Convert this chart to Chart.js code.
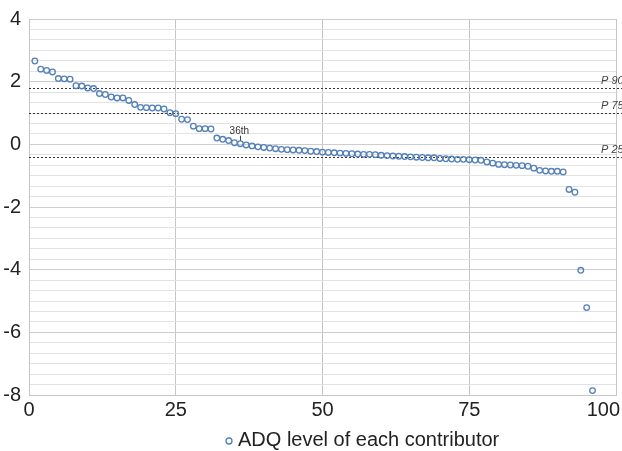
<!DOCTYPE html>
<html>
<head>
<meta charset="utf-8">
<script src="https://cdn.jsdelivr.net/npm/chart.js@4/dist/chart.umd.min.js"></script>
<style>
    html, body { margin: 0; padding: 0; background: #fff; }
    #wrap { width: 622px; height: 451px; position: relative; }
</style>
</head>
<body>
<div id="wrap"><canvas id="adqChart"></canvas></div>
<script>
// ADQ level per contributor, sorted high to low (rank 1..96)
const adqLevels = [
    2.66, 2.40, 2.36, 2.31, 2.10, 2.09, 2.08, 1.87, 1.86, 1.80,
    1.78, 1.62, 1.59, 1.51, 1.48, 1.48, 1.40, 1.27, 1.18, 1.17,
    1.16, 1.16, 1.13, 1.01, 0.98, 0.80, 0.79, 0.58, 0.50, 0.50,
    0.49, 0.20, 0.16, 0.12, 0.05, 0.02, -0.02, -0.05, -0.08, -0.10,
    -0.12, -0.14, -0.16, -0.17, -0.18, -0.19, -0.20, -0.22, -0.23, -0.25,
    -0.26, -0.27, -0.28, -0.29, -0.30, -0.31, -0.32, -0.32, -0.33, -0.35,
    -0.36, -0.37, -0.38, -0.39, -0.40, -0.41, -0.42, -0.43, -0.43, -0.45,
    -0.46, -0.47, -0.48, -0.48, -0.49, -0.50, -0.51, -0.56, -0.60, -0.64,
    -0.65, -0.66, -0.67, -0.68, -0.70, -0.76, -0.83, -0.85, -0.86, -0.86,
    -0.88, -1.44, -1.53, -4.02, -5.21, -7.86
];
const percentileNames = ['P 90', 'P 75', 'P 25'];
const percentileValues = [1.79, 0.99, -0.41];
const xTickLabels = [0, 25, 50, 75, 100];
const yTickLabels = [-8, -6, -4, -2, 0, 2, 4];
const minorPerMajor = 6;
const markedRank = 36;
const seriesLabel = 'ADQ level of each contributor';

const blue = 'rgb(84, 128, 186)';
const fontFamily = '"Liberation Sans", Arial, sans-serif';

const points = adqLevels.map((v, i) => ({x: i + 1, y: v}));

const percentileLines = {
    id: 'percentileLines',
    beforeDatasetsDraw(chart) {
        const {ctx, chartArea, scales: {y}} = chart;
        ctx.save();
        ctx.strokeStyle = '#333';
        ctx.lineWidth = 1;
        ctx.setLineDash([2, 2]);
        ctx.font = 'italic 11px ' + fontFamily;
        ctx.fillStyle = '#444';
        ctx.textAlign = 'left';
        ctx.textBaseline = 'alphabetic';
        percentileValues.forEach((v, i) => {
            const py = Math.round(y.getPixelForValue(v)) + 0.5;
            ctx.beginPath();
            ctx.moveTo(chartArea.left, py);
            ctx.lineTo(chart.width, py);
            ctx.stroke();
            ctx.fillText(percentileNames[i], 601, py - 5);
        });
        ctx.restore();
    },
    afterDatasetsDraw(chart) {
        const {ctx} = chart;
        const pt = chart.getDatasetMeta(0).data[markedRank - 1];
        ctx.save();
        ctx.strokeStyle = '#444';
        ctx.lineWidth = 1;
        ctx.beginPath();
        ctx.moveTo(Math.round(pt.x) + 0.5, pt.y - 3);
        ctx.lineTo(Math.round(pt.x) + 0.5, pt.y - 8);
        ctx.stroke();
        ctx.font = '10px ' + fontFamily;
        ctx.fillStyle = '#333';
        ctx.textAlign = 'center';
        ctx.fillText(markedRank + 'th', pt.x - 1, pt.y - 10);
        ctx.restore();
    },
    afterDraw(chart) {
        const {ctx, chartArea, scales: {x}} = chart;
        ctx.save();
        // x labels drawn by hand so "100" stays inside the canvas
        ctx.font = '20px ' + fontFamily;
        ctx.fillStyle = '#222';
        ctx.textBaseline = 'top';
        ctx.textAlign = 'left';
        xTickLabels.forEach(v => {
            const text = String(v);
            const w = ctx.measureText(text).width;
            let left = x.getPixelForValue(v) - w / 2;
            if (left + w > chart.width - 2) left = chart.width - 2 - w;
            ctx.fillText(text, left, chartArea.bottom + 5);
        });
        // legend, sits a bit right of centre like the original
        const ly = chartArea.bottom + 45;
        const lx = 229;
        ctx.strokeStyle = blue;
        ctx.lineWidth = 1.3;
        ctx.beginPath();
        ctx.arc(lx, ly + 1, 3, 0, Math.PI * 2);
        ctx.stroke();
        ctx.textBaseline = 'middle';
        ctx.fillText(seriesLabel, lx + 9, ly);
        ctx.restore();
    }
};

new Chart(document.getElementById('adqChart').getContext('2d'), {
    type: 'scatter',
    data: {
        datasets: [{
            label: seriesLabel,
            data: points,
            borderColor: blue,
            backgroundColor: 'rgba(255,255,255,0)',
            borderWidth: 1.3,
            pointRadius: 2.8,
            pointHoverRadius: 2.8
        }]
    },
    options: {
        responsive: true,
        maintainAspectRatio: false,
        animation: false,
        layout: {
            padding: {top: 19, right: 6, left: 0, bottom: 0}
        },
        scales: {
            x: {
                type: 'linear',
                min: 0,
                max: 100,
                ticks: {display: false, stepSize: 25},
                afterBuildTicks: s => { s.ticks = xTickLabels.map(v => ({value: v})); },
                afterFit: s => { s.height = 56; s.paddingLeft = 0; s.paddingRight = 0; },
                grid: {color: '#c6c6c6', drawTicks: false},
                border: {color: '#c6c6c6'}
            },
            y: {
                min: -8,
                max: 4,
                afterBuildTicks: s => {
                    const t = [];
                    const lo = yTickLabels[0];
                    const step = (yTickLabels[1] - yTickLabels[0]) / minorPerMajor;
                    const n = (yTickLabels[yTickLabels.length - 1] - lo) / step;
                    for (let i = 0; i <= n; i++) t.push({value: lo + i * step, major: i % minorPerMajor === 0});
                    s.ticks = t;
                },
                afterFit: s => { s.width = 29; s.paddingTop = 0; s.paddingBottom = 0; },
                ticks: {
                    padding: 8,
                    color: '#222',
                    font: {family: fontFamily, size: 20},
                    autoSkip: false,
                    callback: function(val, index, ticks) {
                        return ticks[index].major ? String(Math.round(val)) : '';
                    }
                },
                grid: {
                    drawTicks: false,
                    color: c => (c.tick && c.tick.major) ? '#cdcdcd' : '#e2e2e2'
                },
                border: {color: '#c6c6c6'}
            }
        },
        plugins: {
            legend: {display: false},
            tooltip: {enabled: false}
        }
    },
    plugins: [percentileLines]
});
</script>
</body>
</html>
